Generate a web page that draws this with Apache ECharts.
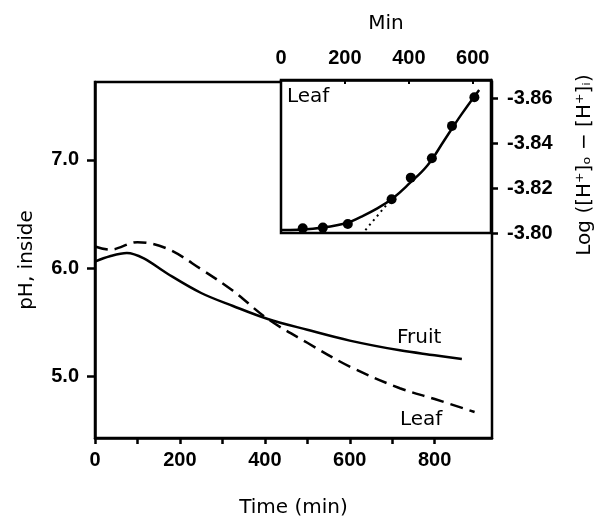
<!DOCTYPE html>
<html>
<head>
<meta charset="utf-8">
<script src="https://cdn.jsdelivr.net/npm/echarts@6/dist/echarts.min.js"></script>
<style>
  html, body { margin: 0; padding: 0; background: #fff; }
  #chart { width: 603px; height: 523px; }
</style>
</head>
<body>
<div id="chart"></div>
<script>
// main panel: pH inside vs time
const fruitTime = [0, 35, 75, 115, 170, 250, 325, 407, 500, 600, 718, 800, 864]
const fruitPH = [6.06, 6.11, 6.14, 6.09, 5.95, 5.77, 5.65, 5.53, 5.43, 5.33, 5.24, 5.195, 5.16]
const leafTime = [0, 35, 100, 170, 250, 325, 407, 500, 600, 718, 800, 894]
const leafPH = [6.20, 6.17, 6.24, 6.18, 5.99, 5.79, 5.53, 5.31, 5.09, 4.89, 4.79, 4.67]
const mainXTicks = [0, 100, 200, 300, 400, 500, 600, 700, 800]
const mainXLabels = [0, 200, 400, 600, 800]
const mainYLabels = [5, 6, 7]

// inset: Log([H+]o - [H+]i) vs min, leaf
const insetTime = [68, 131, 209, 346, 406, 472, 535, 605]
const insetLog = [-3.8021, -3.8024, -3.8040, -3.8150, -3.8246, -3.8332, -3.8476, -3.8603]
const fitTime = [0, 100, 200, 250, 300, 352, 400, 458, 510, 563, 620]
const fitLog = [-3.8013, -3.8019, -3.8042, -3.8072, -3.8108, -3.8157, -3.8218, -3.8300, -3.8410, -3.8524, -3.8636]
const dotTime = [264, 345]
const dotLog = [-3.8013, -3.8150]
const insetXLabels = [0, 200, 400, 600]

// the inset axis runs from -3.80 (bottom) to -3.868 (top); plot the magnitude
const zip = (a, b) => a.map((v, i) => [v, b[i]])
const zipNeg = (a, b) => a.map((v, i) => [v, -b[i]])

const tickFont = { fontFamily: 'Liberation Sans', fontWeight: 'bold', fontSize: 20, color: '#000' }
const nameFont = { fontFamily: 'DejaVu Sans', fontSize: 20, color: '#000' }
const ink = '#000'

const chart = echarts.init(document.getElementById('chart'))
chart.setOption({
  backgroundColor: '#fff',
  animation: false,
  grid: [
    { left: 95, top: 82, width: 397, height: 359, show: true, borderColor: ink, borderWidth: 2.5, backgroundColor: 'transparent' },
    { left: 281, top: 80, width: 210, height: 153, show: true, borderColor: ink, borderWidth: 2.5, backgroundColor: '#fff' }
  ],
  xAxis: [
    {
      gridIndex: 0,
      type: 'value',
      min: 0,
      max: 935,
      name: 'Time (min)',
      nameLocation: 'middle',
      nameGap: 60,
      nameTextStyle: nameFont,
      axisLine: { show: true, onZero: false, lineStyle: { color: ink, width: 2.5 } },
      axisTick: { show: true, length: 6, customValues: mainXTicks, lineStyle: { color: ink, width: 2.5 } },
      axisLabel: { customValues: mainXLabels, margin: 12, ...tickFont },
      splitLine: { show: false }
    },
    {
      gridIndex: 1,
      type: 'value',
      position: 'top',
      min: 0,
      max: 657,
      name: 'Min',
      nameLocation: 'middle',
      nameGap: 46,
      nameTextStyle: nameFont,
      axisLine: { show: true, onZero: false, lineStyle: { color: ink, width: 2.5 } },
      axisTick: { show: true, inside: true, length: 4, customValues: insetXLabels, lineStyle: { color: ink, width: 2 } },
      axisLabel: { customValues: insetXLabels, margin: 12, ...tickFont },
      splitLine: { show: false }
    }
  ],
  yAxis: [
    {
      gridIndex: 0,
      type: 'value',
      min: 4.43,
      max: 7.72,
      name: 'pH, inside',
      nameLocation: 'middle',
      nameGap: 58,
      nameTextStyle: nameFont,
      axisLine: { show: true, onZero: false, lineStyle: { color: ink, width: 2.5 } },
      axisTick: { show: true, length: 8, customValues: mainYLabels, lineStyle: { color: ink, width: 2.5 } },
      axisLabel: { customValues: mainYLabels, margin: 16, formatter: v => v.toFixed(1), ...tickFont },
      splitLine: { show: false }
    },
    {
      gridIndex: 1,
      type: 'value',
      position: 'right',
      min: 3.80,
      max: 3.868,
      interval: 0.02,
      axisLine: { show: true, onZero: false, lineStyle: { color: ink, width: 2.5 } },
      axisTick: { show: true, length: 7, lineStyle: { color: ink, width: 2.5 } },
      axisLabel: { showMaxLabel: false, margin: 16, formatter: v => '-' + v.toFixed(2), ...tickFont },
      splitLine: { show: false }
    }
  ],
  series: [
    {
      name: 'Fruit',
      type: 'line',
      xAxisIndex: 0,
      yAxisIndex: 0,
      smooth: 0.35,
      showSymbol: false,
      lineStyle: { color: ink, width: 2.5 },
      data: zip(fruitTime, fruitPH)
    },
    {
      name: 'Leaf',
      type: 'line',
      xAxisIndex: 0,
      yAxisIndex: 0,
      smooth: 0.35,
      showSymbol: false,
      lineStyle: { color: ink, width: 2.5, type: [13, 7] },
      data: zip(leafTime, leafPH)
    },
    {
      name: 'Leaf fit',
      type: 'line',
      xAxisIndex: 1,
      yAxisIndex: 1,
      smooth: 0.4,
      showSymbol: false,
      lineStyle: { color: ink, width: 2.5 },
      data: zipNeg(fitTime, fitLog)
    },
    {
      name: 'Leaf linear',
      type: 'line',
      xAxisIndex: 1,
      yAxisIndex: 1,
      showSymbol: false,
      lineStyle: { color: ink, width: 2, type: [2, 4] },
      data: zipNeg(dotTime, dotLog)
    },
    {
      name: 'Leaf points',
      type: 'scatter',
      xAxisIndex: 1,
      yAxisIndex: 1,
      symbolSize: 10,
      itemStyle: { color: ink, opacity: 1 },
      data: zipNeg(insetTime, insetLog),
      z: 5
    }
  ],
  graphic: [
    { type: 'text', left: 397, top: 328, style: { text: 'Fruit', font: '20px "DejaVu Sans"', fill: ink } },
    { type: 'text', left: 400, top: 410, style: { text: 'Leaf', font: '20px "DejaVu Sans"', fill: ink } },
    { type: 'text', left: 287, top: 87, z: 10, style: { text: 'Leaf', font: '20px "DejaVu Sans"', fill: ink } },
    {
      type: 'text',
      x: 585,
      y: 165,
      rotation: Math.PI / 2,
      style: { text: 'Log ([H⁺]ₒ − [H⁺]ᵢ)', font: '20px "DejaVu Sans"', fill: ink, align: 'center', verticalAlign: 'middle' }
    }
  ]
})
</script>
</body>
</html>
